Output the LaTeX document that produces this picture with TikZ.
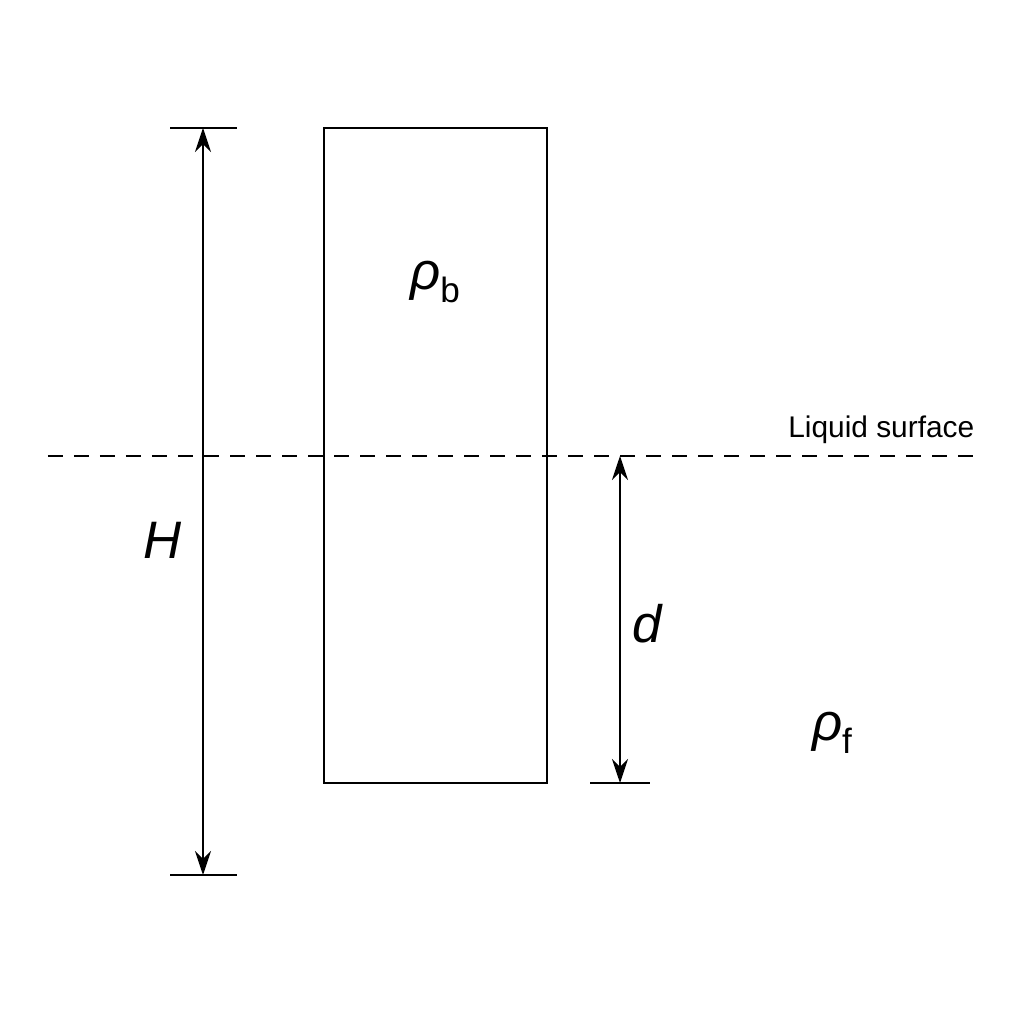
\documentclass[tikz,border=0pt]{standalone}
\usepackage{fontspec}
\setmainfont{Liberation Sans}
\usetikzlibrary{arrows.meta}
\usetikzlibrary{calc}
\newcommand{\dens}[1]{\textit{ρ}\raisebox{-0.45ex}{\fontsize{10}{12}\selectfont #1}}
\begin{document}
\begin{tikzpicture}[font = \fontsize{15}{18}\selectfont,
  dim/.style = {{Stealth[length = 2.4mm, width = 1.6mm]}-{Stealth[length = 2.4mm, width = 1.6mm]}}]
  \useasboundingbox (0, 0) rectangle (10.24cm, 10.24cm);

  % body
  \draw (3.24cm, 2.41cm) coordinate (B1) rectangle (5.47cm, 8.96cm) coordinate (B2);
  \node () at (4.35cm, 7.42cm) {\dens{b}};

  % liquid surface
  \draw[dashed, dash pattern = on 1.5mm off 1.1mm] (0.48cm, 5.68cm) -- (9.75cm, 5.68cm) coordinate (S);
  \node[anchor = south east, inner sep = 0, font = \fontsize{8.5}{10}\selectfont] () at ($(S) + (0, 0.12cm)$) {Liquid surface};
  \node () at (8.32cm, 2.91cm) {\dens{f}};

  % height
  \draw (1.70cm, 8.96cm) -- (2.37cm, 8.96cm) (1.70cm, 1.49cm) -- (2.37cm, 1.49cm);
  \draw[dim] (2.03cm, 8.96cm) coordinate (H1) -- (2.03cm, 1.49cm) coordinate (H2);
  \node () at (1.63cm, 4.84cm) {\textit{H}};

  % depth
  \draw (5.90cm, 2.41cm) -- (6.50cm, 2.41cm);
  \draw[dim] (6.20cm, 5.68cm) coordinate (D1) -- (6.20cm, 2.41cm) coordinate (D2);
  \node () at (6.48cm, 4.00cm) {\textit{d}};
\end{tikzpicture}
\end{document}
